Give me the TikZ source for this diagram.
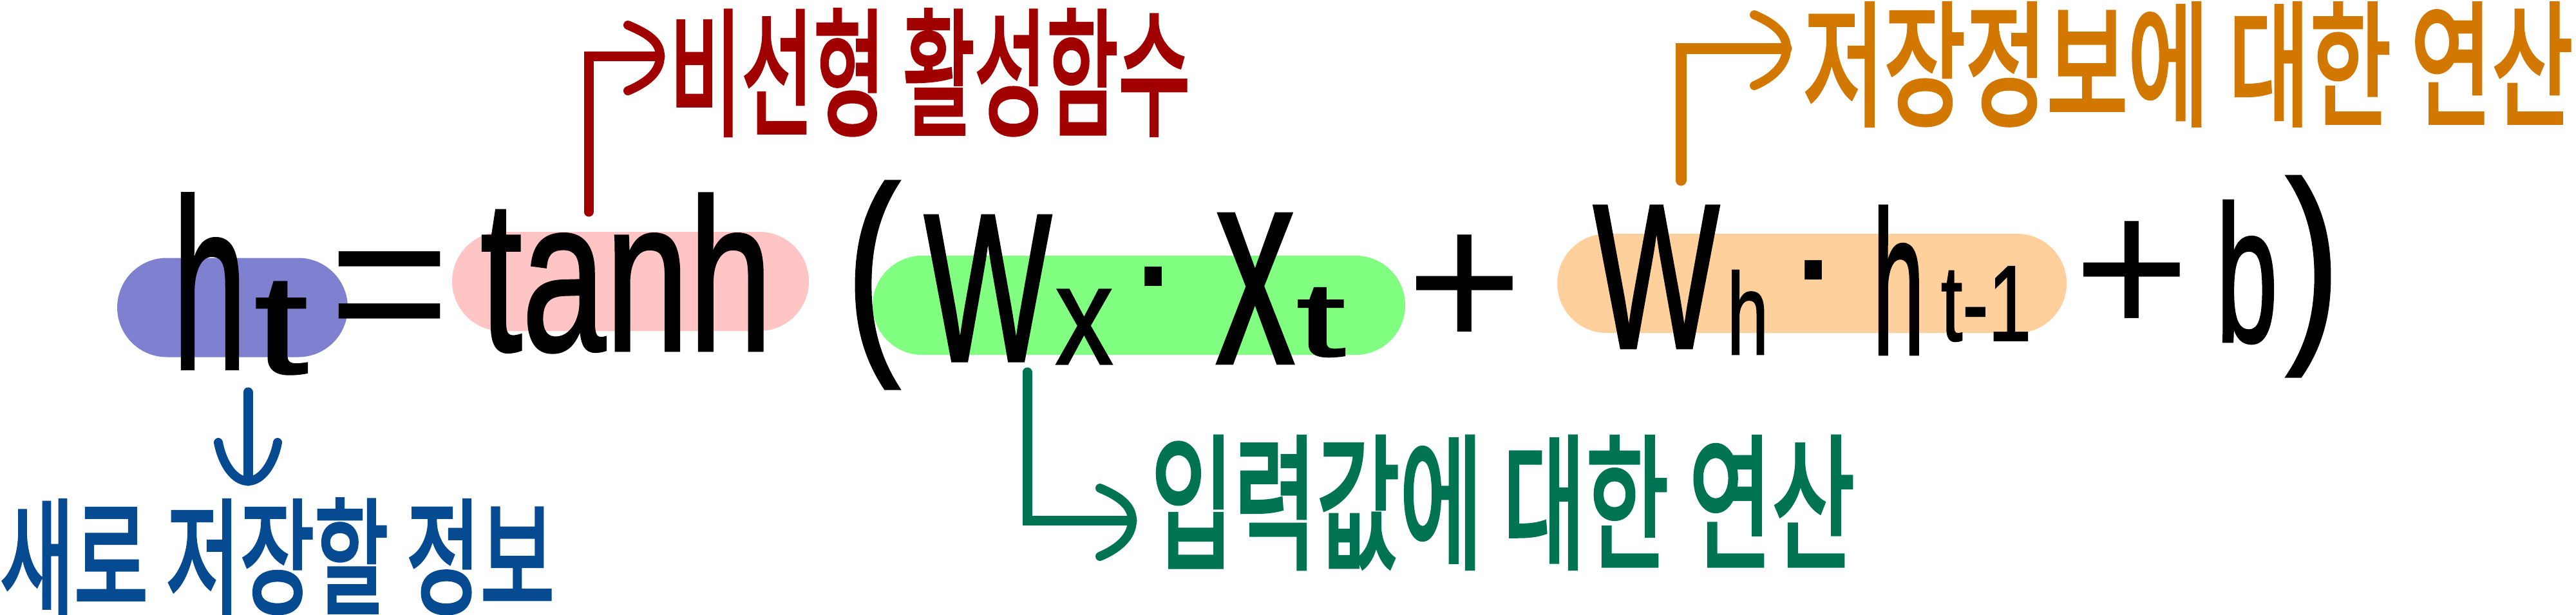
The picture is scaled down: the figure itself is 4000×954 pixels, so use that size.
\documentclass[tikz,border=0pt]{standalone}
\usepackage{fontspec}
\usepackage{graphicx}
\setmainfont{Liberation Sans}
\newfontfamily\eqf{Liberation Sans}[FakeBold=1.5]
\newfontfamily\kor{Noto Sans CJK KR}[FakeBold=3]
\usetikzlibrary{calc}
\definecolor{cred}{HTML}{A00000}
\definecolor{cblue}{HTML}{064A92}
\definecolor{cgreen}{HTML}{007352}
\definecolor{corange}{HTML}{D27700}
\definecolor{bblue}{HTML}{8080D0}
\definecolor{bpink}{HTML}{FFC4C4}
\definecolor{bgreen}{HTML}{80FF80}
\definecolor{borange}{HTML}{FFD09C}
\newdimen\pxu \pxu=0.25pt
\newcommand\fitbox[3]{\resizebox*{#1\pxu}{#2\pxu}{#3}}
% right-pointing chevron ending at a named tip
\newcommand\chevR[3]{\draw[chev, #1] ($(#2)+(-50,-#3)$) .. controls ($(#2)+(-22,-#3+12)$) and ($(#2)+(0,-24)$) .. (#2)
   .. controls ($(#2)+(0,26)$) and ($(#2)+(-22,#3-6)$) .. ($(#2)+(-50,#3+6)$);}
% down-pointing chevron ending at a named tip
\newcommand\chevD[2]{\draw[chev, #1] ($(#2)+(-46,-60)$) .. controls ($(#2)+(-40,-28)$) and ($(#2)+(-22,0)$) .. (#2)
   .. controls ($(#2)+(22,0)$) and ($(#2)+(40,-28)$) .. ($(#2)+(46,-60)$);}
\tikzset{
  glyph/.style={inner sep=0pt, outer sep=0pt, anchor=north west, font=\eqf},
  sym/.style={inner sep=0pt, outer sep=0pt, anchor=north},
  hl/.style={inner sep=0pt, outer sep=0pt, rounded corners=19.25pt, minimum height=38.5pt},
  conn/.style={line width=3.75pt, line cap=round},
  chev/.style={line width=3.5pt, line cap=round},
  korean/.style={glyph, font=\kor}
}
\begin{document}
\begin{tikzpicture}[x=0.25pt, y=-0.25pt]
\useasboundingbox (0,0) rectangle (4000,954);
% highlight boxes
\node[hl, fill=bblue, minimum width=89.5pt] (bh) at (361,477.5) {};
\node[hl, fill=bpink, minimum width=138.5pt] (btanh) at (979,437) {};
\node[hl, fill=bgreen, minimum width=206.75pt] (bx) at (1768.5,474) {};
\node[hl, fill=borange, minimum width=197.75pt] (bhh) at (2813.5,440) {};
% equation
\node[glyph] (h1) at (268,301) {\fitbox{115}{271}{h}};
\node[glyph] (t1) at (395,438) {\fitbox{83}{143}{t}};
\node[sym, font=\fontsize{81pt}{81pt}\selectfont] (eq) at (605,391) {=};
\node[glyph] (tanh) at (746,301) {\fitbox{453}{246}{tanh}};
\node[glyph] (lp) at (1314,282) {\fitbox{83}{321}{(}};
\node[glyph] (W1) at (1435,335) {\fitbox{198}{225}{W}};
\node[glyph] (x1) at (1639,450) {\fitbox{89}{115}{x}};
\node[sym, font=\fontsize{70pt}{70pt}\selectfont] (d1) at (1791,414) {·};
\node[glyph] (x2) at (1888,333) {\fitbox{122}{230}{x}};
\node[glyph] (t2) at (2013,447) {\fitbox{76}{107}{t}};
\node[sym, font=\fontsize{77pt}{77pt}\selectfont] (p1) at (2274,365) {+};
\node[glyph] (W2) at (2474,320) {\fitbox{196}{220}{W}};
\node[glyph] (h2) at (2682,420) {\fitbox{64}{130}{h}};
\node[sym, font=\fontsize{70pt}{70pt}\selectfont] (d2) at (2816,404) {·};
\node[glyph] (h3) at (2908,320) {\fitbox{80}{230}{h}};
\node[glyph] (t3) at (3014,414) {\fitbox{140}{116}{t-1}};
\node[sym, font=\fontsize{77pt}{77pt}\selectfont] (p2) at (3310,344) {+};
\node[glyph] (b) at (3441,312) {\fitbox{96}{221}{b}};
\node[glyph] (rp) at (3550,274) {\fitbox{83}{310}{)}};
% labels
\node[korean, text=cred] (lred) at (1040,15) {\fitbox{808}{195}{비선형 활성함수}};
\node[korean, text=corange] (lorange) at (2800,5) {\fitbox{1195}{190}{저장정보에 대한 연산}};
\node[korean, text=cgreen] (lgreen) at (1787,678) {\fitbox{1093}{205}{입력값에 대한 연산}};
\node[korean, text=cblue] (lblue) at (0,775) {\fitbox{861}{178}{새로 저장할 정보}};
% connectors
\coordinate (rs) at (914,329); \coordinate (rt) at (1025,87);
\coordinate (os) at (2610,280); \coordinate (ot) at (2774,75);
\coordinate (gs) at (1595,578); \coordinate (gt) at (1758,808);
\coordinate (bs) at (385,609);  \coordinate (bt) at (385,747);
\draw[conn, cred] (rs) |- (rt);
\chevR{cred}{rt}{48}
\draw[conn, corange, line width=4.25pt] (os) |- (ot);
\chevR{corange}{ot}{52}
\draw[conn, cgreen] (gs) |- (gt);
\chevR{cgreen}{gt}{50}
\draw[conn, cblue] (bs) -- (bt);
\chevD{cblue}{bt}
\end{tikzpicture}
\end{document}
